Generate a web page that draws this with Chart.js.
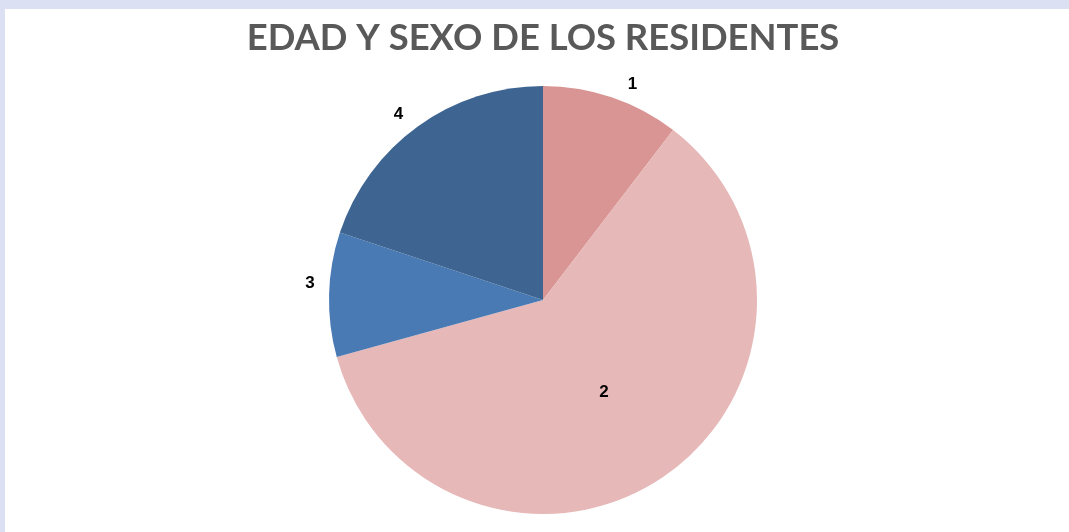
<!DOCTYPE html>
<html>
<head>
<meta charset="utf-8">
<script src="https://cdn.jsdelivr.net/npm/chart.js@4/dist/chart.umd.min.js"></script>
<style>
  html, body { margin: 0; padding: 0; }
  body { width: 1069px; height: 532px; background: #dbe1f2; position: relative; overflow: hidden; }
  #panel { position: absolute; left: 5px; top: 9px; right: 0; bottom: 0; background: #ffffff; }
  #wrap { position: absolute; left: 0; top: 0; width: 1069px; height: 532px; }
</style>
</head>
<body>
<div id="panel"></div>
<div id="wrap"><canvas id="chart" width="1069" height="532"></canvas></div>
<script>
// pie: edad y sexo de los residentes
const categories = ['1', '2', '3', '4'];
const values = [10.4, 60.3, 9.4, 19.9];
const colors = ['#d99594', '#e6b8b7', '#4a7ab4', '#3e6591'];
const labelsOutside = [true, false, true, true];
// small pixel nudges so the numbers sit where the original put them
const labelNudge = [[14, 7], [0, 2], [2, -11], [-7, 5]];

// draws the category number beside / inside each slice
const sliceLabels = {
  id: 'sliceLabels',
  afterDatasetsDraw(chart) {
    const ctx = chart.ctx;
    const meta = chart.getDatasetMeta(0);
    ctx.save();
    ctx.font = 'bold 17px "Liberation Sans", Arial, sans-serif';
    ctx.fillStyle = '#000000';
    ctx.textAlign = 'center';
    ctx.textBaseline = 'middle';
    meta.data.forEach((arc, i) => {
      const p = arc.getProps(['x', 'y', 'startAngle', 'endAngle', 'outerRadius'], true);
      const mid = (p.startAngle + p.endAngle) / 2;
      const r = labelsOutside[i] ? p.outerRadius + 21 : p.outerRadius * 0.51;
      ctx.fillText(categories[i],
        p.x + Math.cos(mid) * r + labelNudge[i][0],
        p.y + Math.sin(mid) * r + labelNudge[i][1]);
    });
    ctx.restore();
  }
};

new Chart(document.getElementById('chart'), {
  type: 'pie',
  data: {
    labels: categories,
    datasets: [{ data: values, backgroundColor: colors, borderWidth: 0 }]
  },
  options: {
    responsive: false,
    animation: false,
    layout: { padding: { top: 16, bottom: 18, left: 17, right: 0 } },
    plugins: {
      legend: { display: false },
      tooltip: { enabled: false },
      title: {
        display: true,
        text: 'EDAD Y SEXO DE LOS RESIDENTES',
        color: '#595959',
        font: { family: 'Lato, "Open Sans", sans-serif', size: 36.4, weight: 'bold', lineHeight: 1.2 },
        padding: { top: 0, bottom: 26.3 }
      }
    }
  },
  plugins: [sliceLabels]
});
</script>
</body>
</html>
